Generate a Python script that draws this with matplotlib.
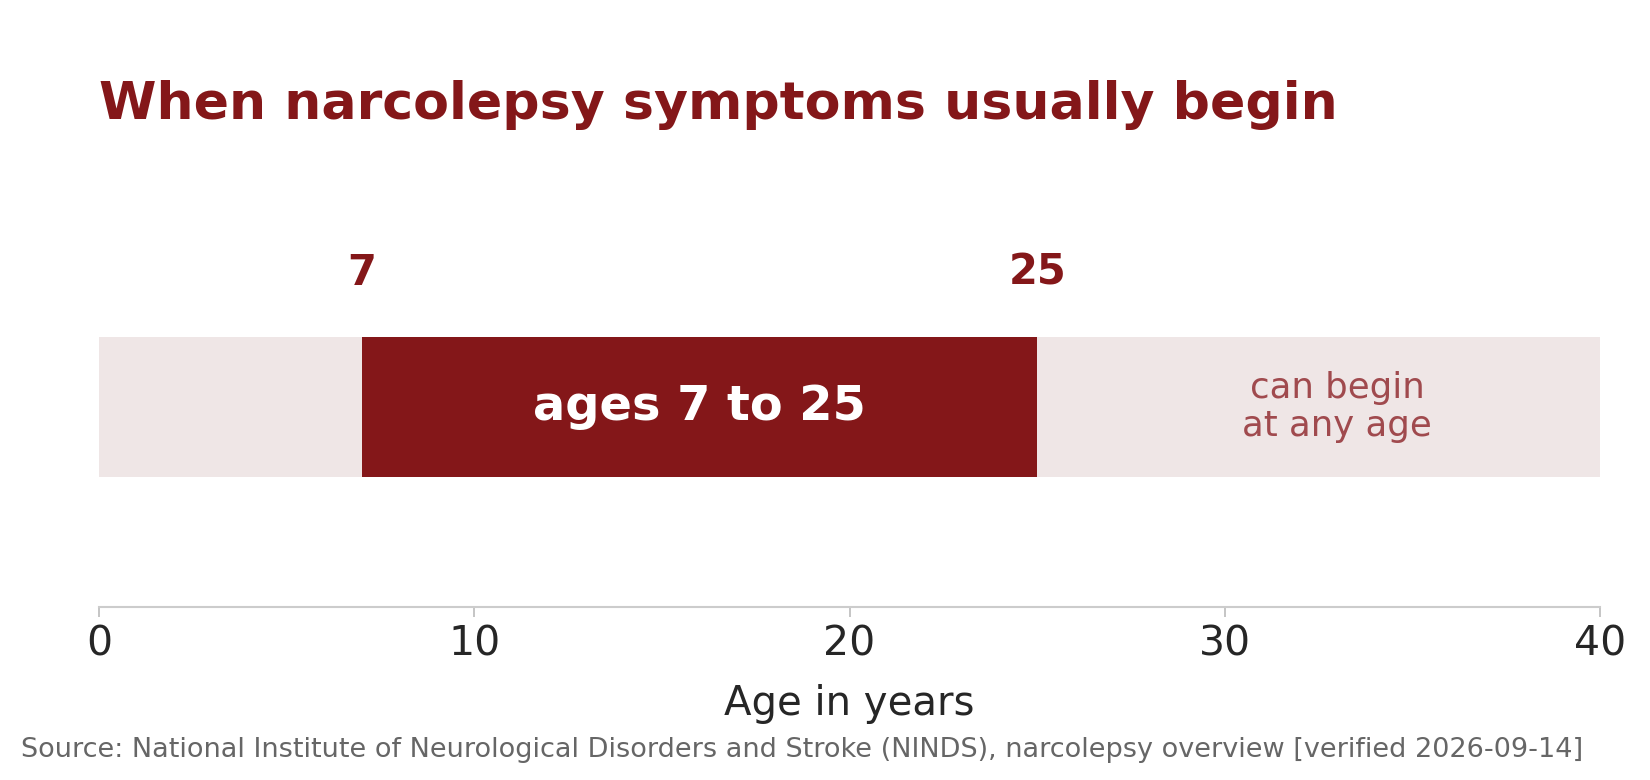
"""Bar showing the usual age range when narcolepsy symptoms begin"""

import matplotlib
matplotlib.use("Agg")
import matplotlib.pyplot as plt

# data
range_start = 7
range_end = 25
axis_max = 40
side_label_x = 33
x_ticks = [0, 10, 20, 30, 40]
range_label = "ages 7 to 25"
side_label = "can begin\nat any age"
title = "When narcolepsy symptoms usually begin"
source = ("Source: National Institute of Neurological Disorders and Stroke (NINDS), "
          "narcolepsy overview [verified 2026-09-14]")

dark_red = "#841719"
light_red = "#EFE6E6"
muted_red = "#A04A4E"

fig = plt.figure(figsize=(16.5, 7.8), dpi=100, facecolor="white")
ax = fig.add_axes([0.06, 0.222, 0.9097, 0.513])

# background band for the whole scale, then the typical range on top
ax.barh(0.5, axis_max, left=0, height=0.35, color=light_red, edgecolor="none")
ax.barh(0.5, range_end - range_start, left=range_start, height=0.35,
        color=dark_red, edgecolor="none")

ax.text((range_start + range_end) / 2, 0.5, range_label, ha="center", va="center",
        color="white", fontsize=34.5, fontweight="bold")
ax.text(side_label_x, 0.5, side_label, ha="center", va="center",
        color=muted_red, fontsize=25.6, linespacing=1.15)

for v in [range_start, range_end]:
    ax.text(v, 0.835, str(v), ha="center", va="center", color=dark_red,
            fontsize=30, fontweight="bold")

ax.set_xlim(0, axis_max)
ax.set_ylim(0, 1)
ax.set_xticks(x_ticks)
ax.set_yticks([])
ax.tick_params(axis="x", labelsize=29.5, labelcolor="#262626", color="#bbbbbb",
               length=7, width=1.2, pad=6)
for side in ["top", "right", "left"]:
    ax.spines[side].set_visible(False)
ax.spines["bottom"].set_color("#cccccc")
ax.spines["bottom"].set_linewidth(1.5)
ax.set_xlabel("Age in years", fontsize=29, color="#262626", labelpad=14)

fig.text(0.06, 0.865, title, ha="left", va="center", color=dark_red,
         fontsize=37.5, fontweight="bold")
fig.text(0.0128, 0.038, source, ha="left", va="center", color="#666666",
         fontsize=19.5)

fig.savefig("out.png", dpi=100, facecolor="white")
